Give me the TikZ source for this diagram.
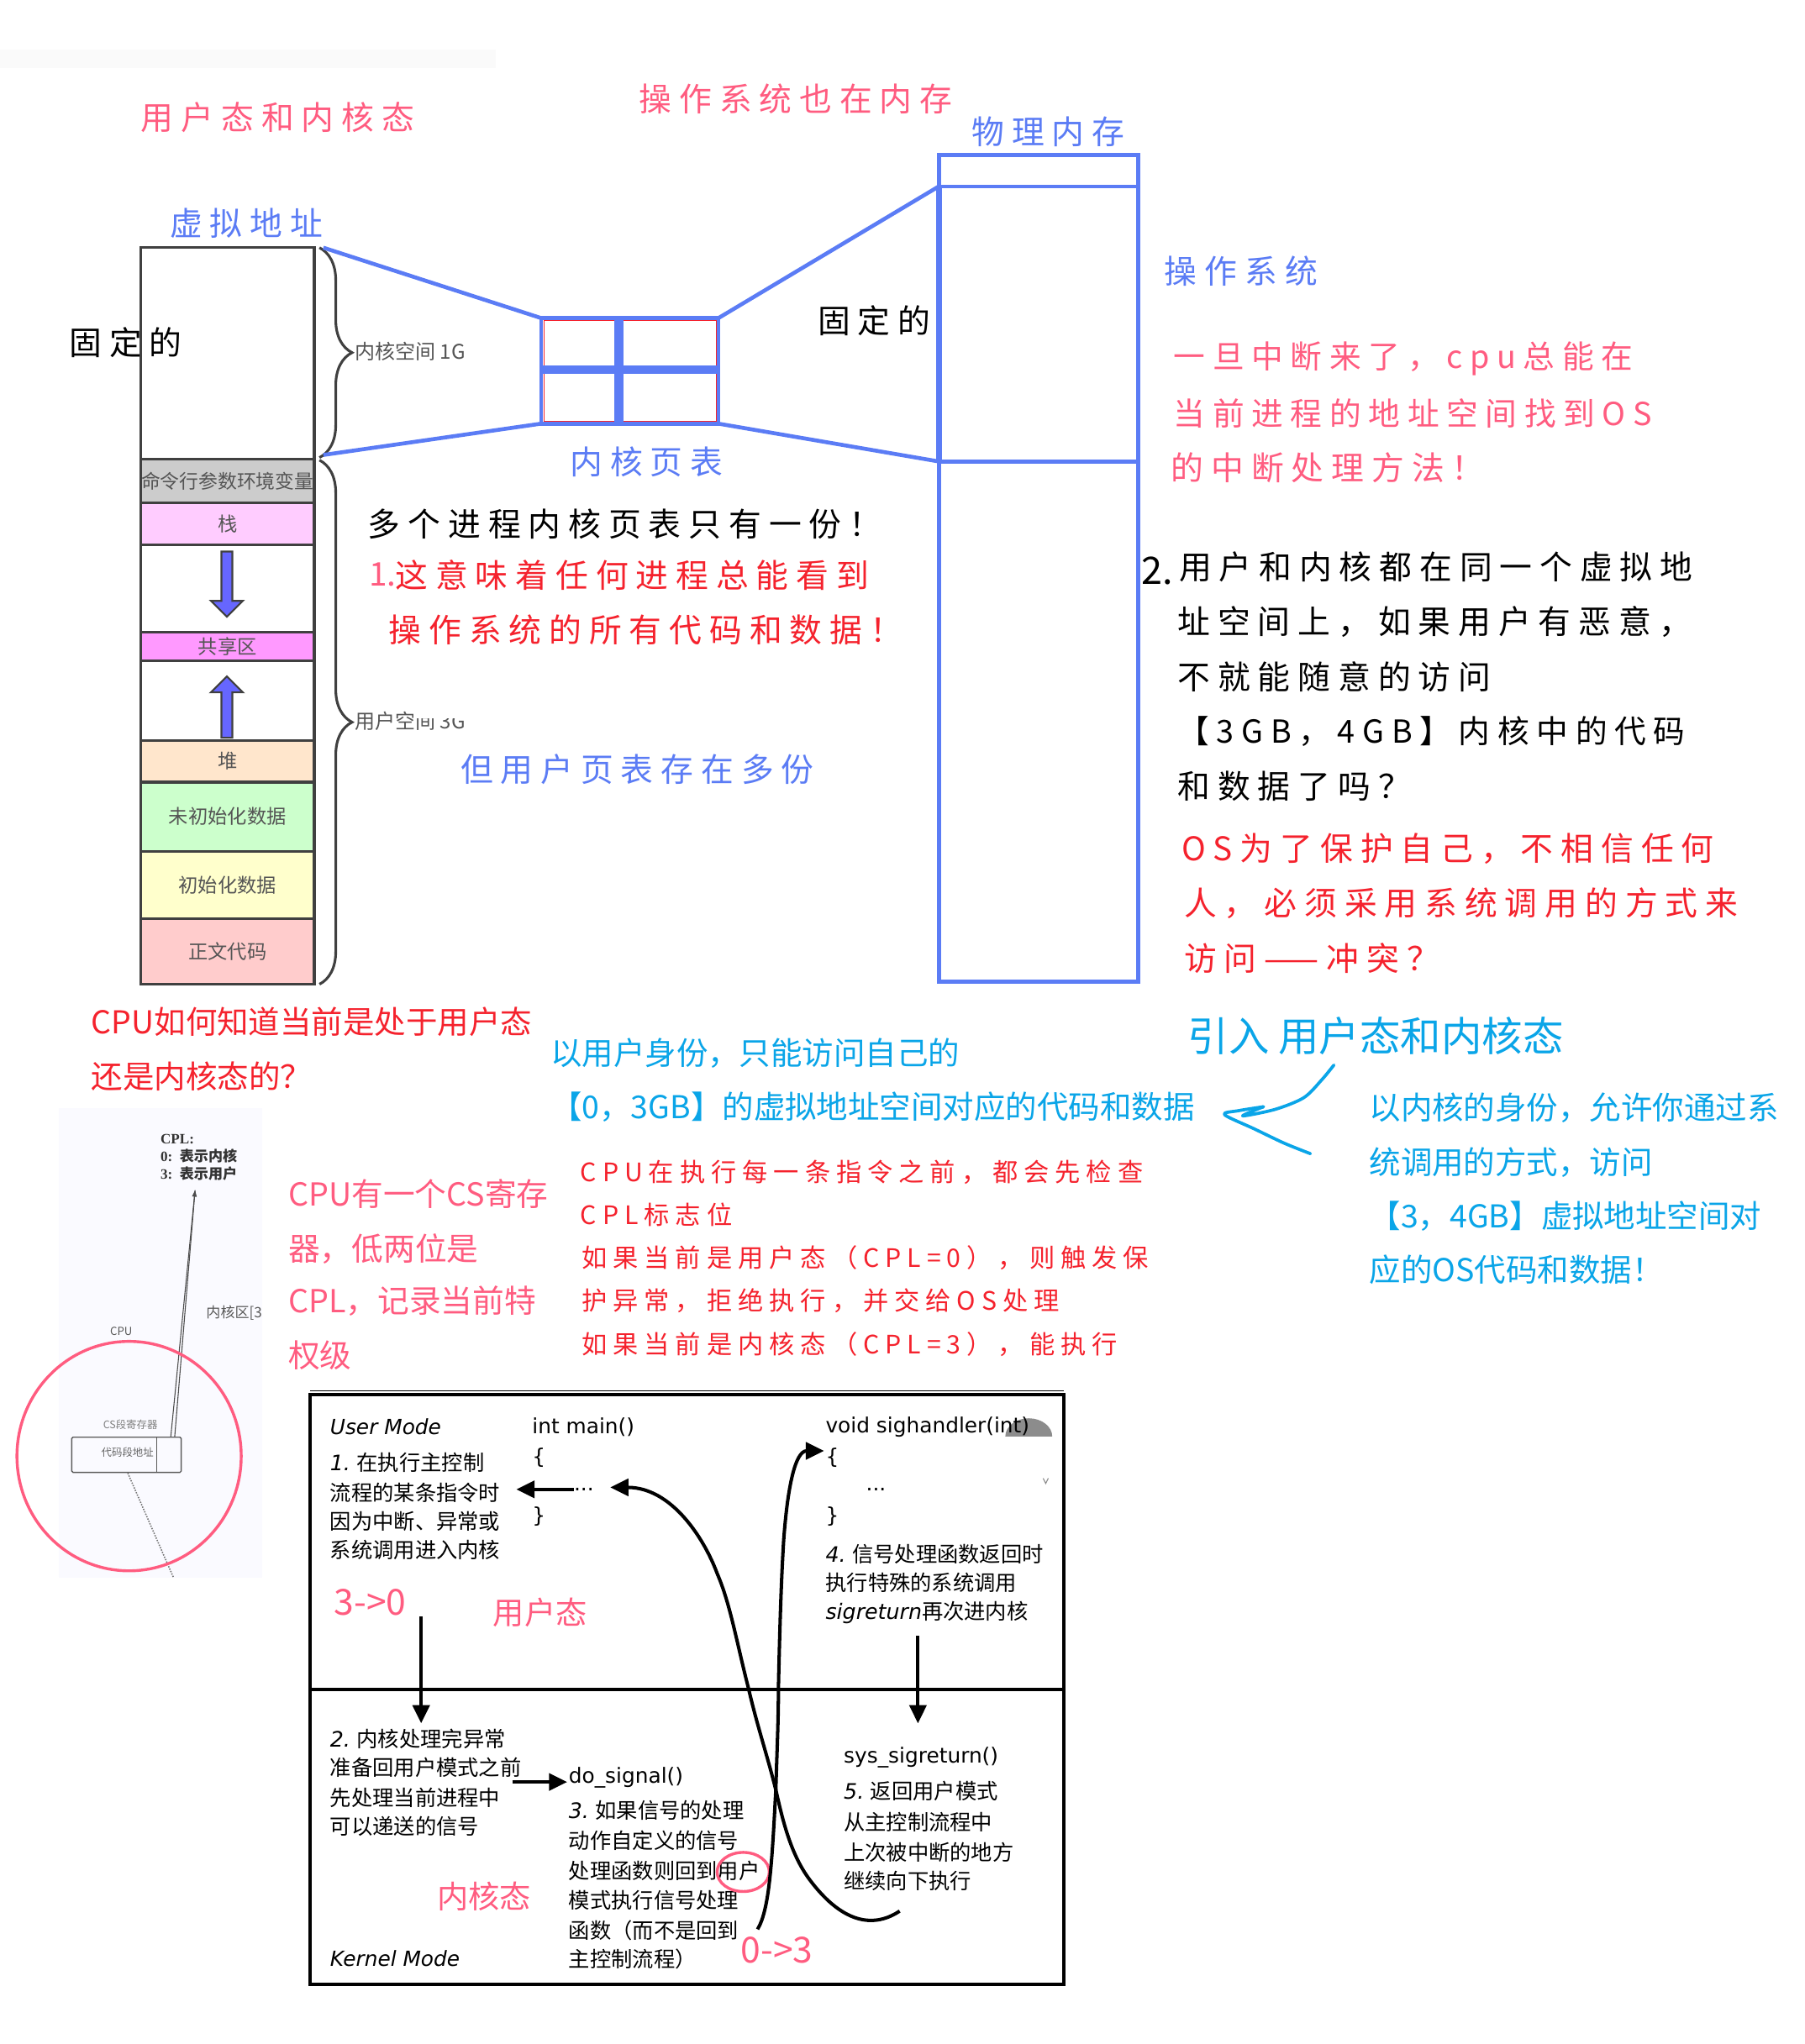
\documentclass[tikz,border=0pt]{standalone}
\usepackage{fontspec}
\setmainfont{Noto Sans CJK SC}
\newfontfamily\handfont[LetterSpace=23]{Noto Sans CJK SC}
\newfontfamily\dejafont{DejaVu Sans}
\newfontfamily\cplfont{Liberation Serif}
\usetikzlibrary{arrows.meta,positioning,shapes.arrows,decorations.pathreplacing}
\definecolor{penblue}{HTML}{5B7CF5}
\definecolor{penpink}{HTML}{FF5C80}
\definecolor{penred}{HTML}{F5222D}
\definecolor{skyblue}{HTML}{0AA5E8}
\definecolor{segline}{HTML}{404040}
\definecolor{segtext}{HTML}{555555}
\definecolor{segargv}{HTML}{CCCCCC}
\definecolor{segstack}{HTML}{FFCCFF}
\definecolor{segshared}{HTML}{FF99FF}
\definecolor{segheap}{HTML}{FFE6CC}
\definecolor{segbss}{HTML}{CCFFCC}
\definecolor{segdata}{HTML}{FFFFCC}
\definecolor{segtextarea}{HTML}{FFCCCC}
\definecolor{growfill}{HTML}{6666FF}
\newcommand{\dv}[1]{{\dejafont\itshape #1}}
\tikzset{
  seg/.style={draw=segline, line width=2pt, minimum width=133pt, outer sep=0pt, inner sep=0pt, text=segtext, font=\fontsize{15}{15}\selectfont},
  hw/.style={anchor=west, inner sep=0pt, font=\handfont\fontsize{25}{30}\selectfont},
  hwtight/.style={hw, font=\handfont\fontsize{24.3}{30}\selectfont},
  hwsmall/.style={anchor=west, inner sep=0pt, text=penred, font=\handfont\fontsize{19.5}{24}\selectfont},
  typed/.style={anchor=west, inner sep=0pt, font=\fontsize{24.15}{28}\selectfont},
  pinktyped/.style={typed, text=penpink, font=\fontsize{24.3}{28}\selectfont},
  code/.style={anchor=west, inner sep=0pt, yshift=-1.5pt, font=\dejafont\fontsize{16}{20}\selectfont},
  note/.style={anchor=west, inner sep=0pt, font=\fontsize{16.3}{20}\selectfont},
  stage/.style={anchor=west, inner sep=0pt, text=penpink, font=\fontsize{24}{28}\selectfont},
  memline/.style={draw=penblue, line width=3pt},
  blockarrow/.style={single arrow, draw=segline, fill=growfill, line width=1.4pt, inner xsep=0pt, inner ysep=3.5pt, minimum width=24pt, minimum height=50pt, single arrow head extend=8pt},
  flow/.style={-{Triangle[length=14pt,width=13pt]}, line width=2.6pt, draw=black},
  hand/.style={draw=skyblue, line width=2.4pt, line cap=round, line join=round},
  brace/.style={draw=segline, line width=2pt, decorate, decoration={brace, amplitude=25pt}},
  sketch/.style={draw=black!65, line width=0.9pt}
}
\begin{document}
\begin{tikzpicture}[x=1pt,y=-1pt]
  \useasboundingbox (0,0) rectangle (1384,1568);
  \fill[white] (0,0) rectangle (1384,1568);
  \fill[black!2] (0,38) rectangle (380,52);

  % headings
  \node[hw, text=penpink] (title) at (108,90) {用户态和内核态};
  \node[hw, text=penpink] (ostitle) at (490,76) {操作系统也在内存};
  \node[hw, text=penblue] (phystitle) at (745,101) {物理内存};
  \node[hw, text=penblue] (virttitle) at (130,171) {虚拟地址};
  \node[hw, text=black] (fixedleft) at (53,263) {固定的};
  \node[hw, text=black] (fixedright) at (627,246) {固定的};
  \node[hw, text=penblue] (ostag) at (893,208) {操作系统};

  % address space column
  \node[seg, minimum height=162pt] (kernel) at (174.5,271) {};
  \node[seg, minimum height=34pt, fill=segargv, below=0pt of kernel, font=\fontsize{14.7}{15}\selectfont] (argv) {命令行参数环境变量};
  \node[seg, minimum height=32pt, fill=segstack, below=0pt of argv] (stack) {栈};
  \node[seg, minimum height=67pt, below=0pt of stack] (gapa) {};
  \node[seg, minimum height=22pt, fill=segshared, below=0pt of gapa] (shared) {共享区};
  \node[seg, minimum height=61pt, below=0pt of shared] (gapb) {};
  \node[seg, minimum height=32pt, fill=segheap, below=0pt of gapb] (heap) {堆};
  \node[seg, minimum height=53pt, fill=segbss, below=0pt of heap] (bss) {未初始化数据};
  \node[seg, minimum height=52pt, fill=segdata, below=0pt of bss] (data) {初始化数据};
  \node[seg, minimum height=50pt, fill=segtextarea, below=0pt of data] (text) {正文代码};
  \node[blockarrow, rotate=-90] (growdown) at (174,446) {};
  \node[blockarrow, rotate=90, minimum height=47pt] (growup) at (174,544.5) {};

  % braces
  \coordinate (bracea) at (245,190);
  \coordinate (braceb) at (245,351);
  \coordinate (bracec) at (245,353);
  \coordinate (braced) at (245,755);
  \draw[brace] (bracea) -- (braceb);
  \draw[brace] (bracec) -- (braced);
  \node[anchor=west, inner sep=0pt, text=segtext, font=\fontsize{15.5}{15}\selectfont] (kernellabel) at (272,269.5) {内核空间 1G};
  \node[anchor=west, inner sep=0pt, text=segtext, font=\fontsize{15.5}{15}\selectfont] (userlabel) at (272,553) {用户空间 3G};
  \fill[white] (317,538) rectangle (362,551);

  % page table and physical memory
  \coordinate (virttop) at (248,190);
  \coordinate (virtbot) at (248,349);
  \node[draw=penblue, line width=3pt, minimum width=136pt, minimum height=81pt, outer sep=0pt] (pagetable) at (483,284.5) {};
  \draw[penred, line width=0.4pt] (417,246) rectangle (549,323);
  \draw[penblue, line width=7pt] (pagetable.north -| 474.5,0) -- (pagetable.south -| 474.5,0);
  \draw[penblue, line width=6pt] (pagetable.west |- 0,283.5) -- (pagetable.east |- 0,283.5);
  \node[draw=penblue, line width=3pt, minimum width=153pt, minimum height=634pt, outer sep=0pt] (physmem) at (796.5,436) {};
  \coordinate (physa) at (720,143);
  \coordinate (physb) at (720,354);
  \draw[memline] (physa) -- (physa -| physmem.east);
  \draw[memline] (physb) -- (physb -| physmem.east);
  \draw[penblue, line width=4.5pt] (physa) -- (physb);
  \draw[memline] (virttop) -- (pagetable.north west);
  \draw[memline] (virtbot) -- (pagetable.south west);
  \draw[memline] (pagetable.north east) -- (physa);
  \draw[memline] (pagetable.south east) -- (physb);

  % notes in the middle
  \node[hw, text=penblue] (pagetag) at (437,354) {内核页表};
  \node[hw, text=black] (single) at (282,402) {多个进程内核页表只有一份！};
  \node[hw, text=penpink, font=\fontsize{25}{30}\selectfont] (numone) at (283,441) {1.};
  \node[hw, text=penred] (meansa) at (303,441) {这意味着任何进程总能看到};
  \node[hw, text=penred] (meansb) at (298,483) {操作系统的所有代码和数据！};
  \node[hw, text=penblue] (usertable) at (353,590) {但用户页表存在多份};

  % notes on the right
  \node[hwtight, text=penpink] (irqa) at (900,275) {一旦中断来了，cpu总能在};
  \node[hwtight, text=penpink] (irqb) at (900,317) {当前进程的地址空间找到OS};
  \node[hw, text=penpink] (irqc) at (898,359) {的中断处理方法！};
  \node[hw, text=black, font=\fontsize{29}{30}\selectfont] (numtwo) at (875,438) {2.};
  \node[hw, text=black] (aska) at (904,435) {用户和内核都在同一个虚拟地};
  \node[hw, text=black] (askb) at (903,477) {址空间上，如果用户有恶意，};
  \node[hw, text=black] (askc) at (903,519) {不就能随意的访问};
  \node[hwtight, text=black] (askd) at (903,561) {【3GB，4GB】内核中的代码};
  \node[hw, text=black] (aske) at (903,603) {和数据了吗？};
  \node[hw, text=penred] (guarda) at (906,651) {OS为了保护自己，不相信任何};
  \node[hw, text=penred] (guardb) at (908,693) {人，必须采用系统调用的方式来};
  \node[hw, text=penred] (guardc) at (908,735) {访问——冲突？};

  % typed notes
  \node[typed, text=penred] (whicha) at (70,784) {CPU如何知道当前是处于用户态};
  \node[typed, text=penred] (whichb) at (70,826) {还是内核态的？};
  \node[typed, text=skyblue] (usera) at (422,808) {以用户身份，只能访问自己的};
  \node[typed, text=skyblue] (userb) at (422,849) {【0，3GB】的虚拟地址空间对应的代码和数据};
  \node[typed, text=skyblue, font=\fontsize{31.2}{36}\selectfont] (intro) at (911,795) {引入 用户态和内核态};
  \node[typed, text=skyblue] (kerna) at (1050,850) {以内核的身份，允许你通过系};
  \node[typed, text=skyblue] (kernb) at (1050,892) {统调用的方式，访问};
  \node[typed, text=skyblue] (kernc) at (1050,933) {【3，4GB】虚拟地址空间对};
  \node[typed, text=skyblue] (kernd) at (1050,974) {应的OS代码和数据！};
  \draw[hand] plot[smooth] coordinates {(1023,817) (1014,828) (1000,842) (978,851) (953,856) (969,849)};
  \draw[hand] plot[smooth] coordinates {(969,849) (950,852) (939,855) (962,866) (985,877) (1005,885)};

  \node[pinktyped] (csa) at (221,916) {CPU有一个CS寄存};
  \node[pinktyped] (csb) at (221,958) {器，低两位是};
  \node[pinktyped] (csc) at (221,998) {CPL，记录当前特};
  \node[pinktyped] (csd) at (221,1040) {权级};

  \node[hwsmall] (checka) at (445,899) {CPU在执行每一条指令之前，都会先检查};
  \node[hwsmall] (checkb) at (445,932) {CPL标志位};
  \node[hwsmall] (checkc) at (446,965) {如果当前是用户态（CPL=0），则触发保};
  \node[hwsmall] (checkd) at (446,998) {护异常，拒绝执行，并交给OS处理};
  \node[hwsmall] (checke) at (446,1031) {如果当前是内核态（CPL=3），能执行};

  % cpu sketch
  \fill[blue!2] (45,850) rectangle (201,1210);
  \node[anchor=north west, inner sep=0pt, align=left, font=\cplfont\bfseries\fontsize{11}{13.5}\selectfont, text=black!80] (cpl) at (123,870) {CPL:\\0:~~{\fontspec{Noto Sans CJK SC}表示内核}\\3:~~{\fontspec{Noto Sans CJK SC}表示用户}};
  \node[inner sep=0pt, text=black!65, font=\fontsize{8.5}{10}\selectfont] (cputag) at (93,1021) {CPU};
  \node[anchor=west, inner sep=0pt, text=black!65, font=\fontsize{11}{12}\selectfont] (zone) at (158,1007) {内核区[3};
  \node[sketch, rounded corners=1pt, minimum width=84pt, minimum height=27pt, outer sep=0pt] (csbox) at (97,1116) {};
  \draw[sketch] (120,1102) -- (120,1130);
  \node[anchor=east, inner sep=0pt, text=black!60, font=\fontsize{8}{10}\selectfont] (segaddr) at (118,1114) {代码段地址};
  \node[anchor=east, inner sep=0pt, text=black!50, font=\fontsize{8}{10}\selectfont] (csname) at (121,1093) {CS段寄存器};
  \coordinate (cplarrow) at (149.6,913);
  \coordinate (cplbase) at (131,1102);
  \coordinate (cplbasetwo) at (134,1102);
  \coordinate (dotend) at (133,1210);
  \coordinate (dotstart) at (98,1130);
  \draw[black!70, line width=0.7pt, -{Triangle[length=5pt,width=3.5pt]}] (cplbase) -- (cplarrow);
  \draw[black!70, line width=0.7pt] (cplbasetwo) -- (cplarrow);
  \draw[black!55, line width=1pt, densely dotted] (dotstart) -- (dotend);
  \draw[penpink, line width=2.2pt] (99,1117) ellipse [x radius=86, y radius=88];

  % signal diagram
  \draw[black, line width=0.9pt] (238,1067) -- (816,1067);
  \fill[black!45] (771,1102) arc[start angle=180, end angle=360, x radius=18, y radius=14] -- cycle;
  \draw[black!45, line width=0.7pt] (800,1134) -- (802,1138) -- (804,1134);
  \node[draw=black, line width=2.4pt, minimum width=578pt, minimum height=452pt, outer sep=0pt] (frame) at (527,1296) {};
  \coordinate (split) at (238,1296);
  \draw[black, line width=2.4pt] (split) -- (split -| frame.east);

  \node[code, font=\dejafont\itshape\fontsize{16}{20}\selectfont] (usermode) at (253,1093) {User Mode};
  \node[note] (onea) at (253,1122) {\dv{1.} 在执行主控制};
  \node[note] (oneb) at (253,1145) {流程的某条指令时};
  \node[note] (onec) at (253,1167) {因为中断、异常或};
  \node[note] (oned) at (253,1189) {系统调用进入内核};
  \node[code] (mainname) at (408,1093) {int main()};
  \node[code] (mainopen) at (408,1117) {\{};
  \node[code] (maindots) at (440,1141) {...};
  \node[code] (mainclose) at (408,1162) {\}};
  \node[code] (handname) at (633,1093) {void sighandler(int)};
  \node[code] (handopen) at (633,1117) {\{};
  \node[code] (handdots) at (664,1141) {...};
  \node[code] (handclose) at (633,1162) {\}};
  \node[note] (foura) at (633,1192) {\dv{4.} 信号处理函数返回时};
  \node[note] (fourb) at (633,1214) {执行特殊的系统调用};
  \node[note] (fourc) at (633,1237) {\dv{sigreturn}再次进内核};

  \node[stage, font=\fontsize{27.5}{28}\selectfont] (tozero) at (256,1229) {3->0};
  \node[stage] (userstage) at (378,1237) {用户态};
  \node[stage] (kernstage) at (335,1455) {内核态};
  \node[stage, font=\fontsize{27.5}{28}\selectfont] (tothree) at (568,1496) {0->3};

  \node[note] (twoa) at (253,1334) {\dv{2.} 内核处理完异常};
  \node[note] (twob) at (253,1356) {准备回用户模式之前};
  \node[note] (twoc) at (253,1379) {先处理当前进程中};
  \node[note] (twod) at (253,1401) {可以递送的信号};
  \node[code, font=\dejafont\itshape\fontsize{16}{20}\selectfont] (kernelmode) at (253,1501) {Kernel Mode};
  \node[code] (dosignal) at (436,1362) {do\_signal()};
  \node[note] (threea) at (436,1389) {\dv{3.} 如果信号的处理};
  \node[note] (threeb) at (436,1412) {动作自定义的信号};
  \node[note] (threec) at (436,1435) {处理函数则回到用户};
  \node[note] (threed) at (436,1458) {模式执行信号处理};
  \node[note] (threee) at (436,1481) {函数（而不是回到};
  \node[note] (threef) at (436,1503) {主控制流程）};
  \node[code] (sysret) at (647,1347) {sys\_sigreturn()};
  \node[note] (fivea) at (647,1374) {\dv{5.} 返回用户模式};
  \node[note] (fiveb) at (647,1398) {从主控制流程中};
  \node[note] (fivec) at (647,1421) {上次被中断的地方};
  \node[note] (fived) at (647,1443) {继续向下执行};
  \draw[penpink, line width=2.2pt] (570,1436) ellipse [x radius=20, y radius=15];

  \coordinate (enterfrom) at (323,1240);
  \coordinate (enterto) at (323,1322);
  \coordinate (backfrom) at (704,1255);
  \coordinate (backto) at (704,1322);
  \coordinate (dotsto) at (396,1142.5);
  \coordinate (signalfrom) at (393,1367);
  \coordinate (signalto) at (435,1367);
  \coordinate (resumefrom) at (690,1466);
  \coordinate (resumeto) at (468,1141);
  \coordinate (handlerfrom) at (581,1480);
  \coordinate (handlerto) at (632,1113);
  \draw[flow] (enterfrom) -- (enterto);
  \draw[flow] (backfrom) -- (backto);
  \draw[flow] (maindots.west) -- (dotsto);
  \draw[flow] (signalfrom) -- (signalto);
  \draw[flow] (resumefrom) .. controls (672,1478) and (648,1478) .. (621,1442) .. controls (606,1422) and (600,1395) .. (595,1373) .. controls (588,1345) and (581,1325) .. (574,1295) .. controls (565,1260) and (560,1230) .. (550,1207) .. controls (540,1180) and (515,1141) .. (resumeto);
  \draw[flow] (handlerfrom) .. controls (590,1465) and (592,1430) .. (595,1373) .. controls (596,1340) and (597,1320) .. (597,1295) .. controls (598,1250) and (599,1215) .. (601,1182) .. controls (604,1140) and (610,1113) .. (handlerto);
\end{tikzpicture}
\end{document}
